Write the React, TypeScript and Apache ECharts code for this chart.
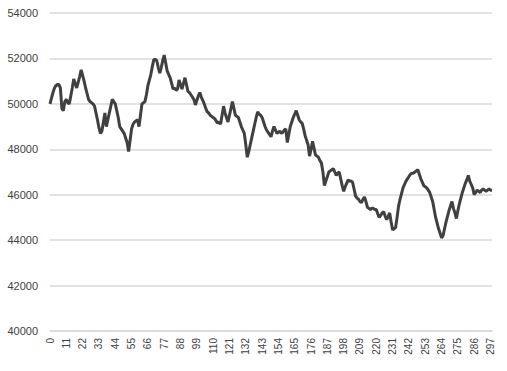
import React, { useEffect, useRef } from "react";
import * as echarts from "echarts";

const yTicks = { min: 40000, max: 54000, step: 2000 };

const values: number[] = [
  50000, 50250, 50500, 50700, 50800, 50850, 50850, 50700, 49800, 49700,
  50100, 50200, 50050, 50000, 50350, 50700, 51100, 50900, 50700, 50950,
  51200, 51500, 51250, 51000, 50700, 50450, 50200, 50100, 50050, 50000,
  49900, 49600, 49300, 48950, 48700, 48800, 49200, 49600, 49000, 49300,
  49600, 49900, 50200, 50100, 50000, 49700, 49400, 49000, 48900, 48800,
  48700, 48500, 48300, 47900, 48400, 48900, 49100, 49200, 49250, 49300,
  49000, 49500, 50000, 50050, 50100, 50400, 50800, 51050, 51300, 51650,
  51950, 51950, 51900, 51600, 51350, 51600, 51900, 52150, 51800, 51450,
  51300, 51150, 50900, 50650, 50700, 50600, 50650, 51050, 50850, 50650,
  50900, 51150, 50850, 50550, 50500, 50400, 50300, 50200, 49950, 50150,
  50350, 50500, 50300, 50150, 50000, 49800, 49650, 49600, 49500, 49450,
  49400, 49350, 49250, 49150, 49200, 49100, 49500, 49900, 49600, 49400,
  49200, 49500, 49800, 50100, 49800, 49500, 49450, 49400, 49200, 49000,
  48850, 48700, 48200, 47650, 47900, 48200, 48500, 48800, 49100, 49400,
  49650, 49550, 49500, 49400, 49200, 49000, 48850, 48750, 48650, 48550,
  48800, 49000, 48850, 48700, 48750, 48800, 48700, 48750, 48850, 48900,
  48300, 48650, 49000, 49200, 49400, 49550, 49700, 49500, 49300, 49200,
  49150, 48900, 48600, 48400, 48200, 47700, 48000, 48350, 48050, 47750,
  47700, 47650, 47500, 47400, 47000, 46400, 46600, 46800, 47000, 47050,
  47100, 47150, 47000, 46850, 46950, 47000, 46700, 46400, 46150, 46350,
  46500, 46650, 46600, 46600, 46550, 46250, 45950, 45850, 45800, 45700,
  45650, 45800, 45900, 45700, 45450, 45400, 45350, 45400, 45400, 45350,
  45350, 45150, 45000, 45100, 45200, 45250, 45050, 44900, 45050, 45200,
  44800, 44450, 44500, 44550, 45000, 45500, 45800, 46050, 46300, 46450,
  46600, 46700, 46800, 46900, 46950, 46950, 47000, 47050, 47100, 46900,
  46700, 46550, 46400, 46350, 46300, 46200, 46100, 45900, 45700, 45350,
  45000, 44750, 44500, 44300, 44100, 44200, 44500, 44800, 45050, 45300,
  45500, 45700, 45400, 45200, 44950, 45300, 45600, 45850, 46100, 46300,
  46500, 46650, 46850, 46600, 46450, 46300, 46000, 46100, 46200, 46150,
  46100, 46200, 46250, 46200, 46150, 46200, 46250, 46200, 46200,
];

const categories: string[] = values.map((_, i) => String(i));

export default function App() {
  const ref = useRef<HTMLDivElement>(null);
  useEffect(() => {
    if (!ref.current) return;
    const chart = echarts.init(ref.current, null, { renderer: "svg" });
    chart.setOption({
      animation: false,
      backgroundColor: "#ffffff",
      grid: { left: 50, right: 15, top: 13, bottom: 40, containLabel: false },
      xAxis: {
        type: "category",
        data: categories,
        boundaryGap: false,
        axisLine: { show: true, lineStyle: { color: "#d9d9d9", width: 1.5 } },
        axisTick: { show: false },
        axisLabel: {
          interval: 10,
          rotate: 90,
          fontSize: 10,
          fontFamily: "Liberation Sans",
          color: "#404040",
          margin: 7,
        },
        splitLine: { show: false },
      },
      yAxis: {
        type: "value",
        min: yTicks.min,
        max: yTicks.max,
        interval: yTicks.step,
        axisLine: { show: false },
        axisTick: { show: false },
        axisLabel: {
          fontSize: 11,
          fontFamily: "Liberation Sans",
          color: "#404040",
          margin: 12,
          formatter: (v: number) => String(v),
        },
        splitLine: { lineStyle: { color: "#d9d9d9", width: 1.5 } },
      },
      series: [
        {
          type: "line",
          data: values,
          showSymbol: false,
          symbol: "none",
          lineStyle: { color: "#404040", width: 3 },
        },
      ],
    });
    return () => chart.dispose();
  }, []);
  return (
    <div
      ref={ref}
      style={{ position: "fixed", left: 0, top: 0, width: 507, height: 371 }}
    />
  );
}
